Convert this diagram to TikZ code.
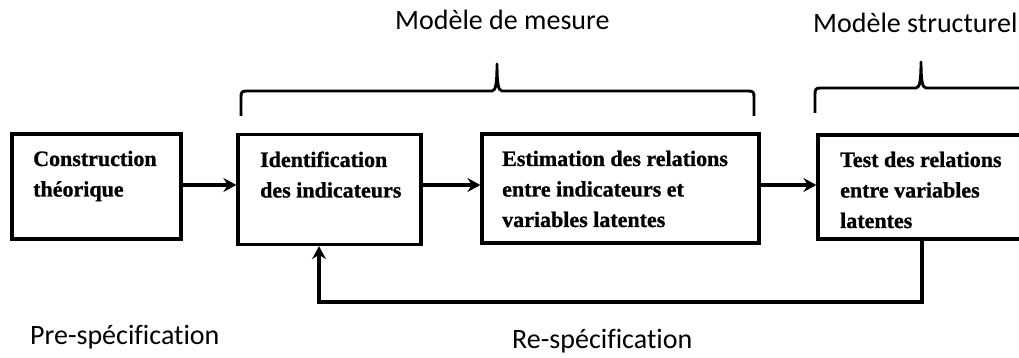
\documentclass[tikz,border=0pt]{standalone}
\usepackage{fontspec}
\setmainfont[BoldFeatures={FakeBold=1}]{Liberation Serif}
\newfontfamily\labelfont[Ligatures=NoCommon]{Carlito}
\usetikzlibrary{arrows.meta}

\begin{document}
\begin{tikzpicture}[x=1pt,y=-1pt,
  stagebox/.style={draw, line width=3.3pt, inner sep=0pt},
  stagetext/.style={anchor=base west, inner sep=0pt,
    font=\bfseries\fontsize{22}{30.5}\selectfont},
  caption/.style={anchor=base west, inner sep=0pt,
    font=\labelfont\fontsize{28}{32}\selectfont},
  flowarrow/.style={line width=3.2pt, line join=miter,
    -{Stealth[length=13pt,width=14pt,inset=4.5pt]}},
  bracket/.style={line width=2.9pt, line join=round}]

\useasboundingbox (0,0) rectangle (1019,358);
\clip (0,0) rectangle (1019,358);

% process stages
\node[stagebox, minimum width=169pt, minimum height=105pt] (b1) at (96.5,186.5) {};
\node[stagebox, minimum width=183pt, minimum height=110pt] (b2) at (329.5,189.5) {};
\node[stagebox, minimum width=277pt, minimum height=109pt] (b3) at (620.5,188.5) {};
\node[stagebox, minimum width=207pt, minimum height=104pt] (b4) at (921.5,187) {};

\node[stagetext] (t1) at (33,166) {\vtop{\hbox{Construction}\hbox{théorique}}};
\node[stagetext] (t2) at (260,167) {\vtop{\hbox{Identification}\hbox{des indicateurs}}};
\node[stagetext] (t3) at (502,166) {\vtop{\hbox{Estimation des relations}\hbox{entre indicateurs et}\hbox{variables latentes}}};
\node[stagetext] (t4) at (840,167) {\vtop{\hbox{Test des relations}\hbox{entre variables}\hbox{latentes}}};

% forward flow
\coordinate (flow) at (0,185);
\draw[flowarrow] (b1.east |- flow) -- (b2.west |- flow);
\draw[flowarrow] (b2.east |- flow) -- (b3.west |- flow);
\draw[flowarrow] (b3.east |- flow) -- (b4.west |- flow);

% re-specification loop
\coordinate (loopR) at (922,302);
\coordinate (loopL) at (319,302);
\draw[flowarrow] (b4.south -| loopR) -- (loopR) -- (loopL) -- (b2.south -| loopL);

% braces over the two models
\draw[bracket] (241,116) -- (241,97) .. controls (241,92) and (242,91) .. (247,91)
  -- (492,91) .. controls (496,91) and (497,82) .. (497,64)
  .. controls (497,82) and (498,91) .. (502,91)
  -- (748,91) .. controls (753,91) and (754,92) .. (754,97) -- (754,116);
\draw[bracket] (815,113) -- (815,94) .. controls (815,89) and (816,88) .. (821,88)
  -- (916,88) .. controls (920,88) and (921,79) .. (921,62)
  .. controls (921,79) and (922,88) .. (926,88)
  -- (1021,88) .. controls (1026,88) and (1027,89) .. (1027,94) -- (1027,113);

% captions
\node[caption] (mesure) at (395,30) {Modèle de mesure};
\node[caption] (structurel) at (813,33) {Modèle structurel};
\node[caption] (prespec) at (30,344) {Pre-spécification};
\node[caption] (respec) at (512,348) {Re-spécification};

\end{tikzpicture}
\end{document}
